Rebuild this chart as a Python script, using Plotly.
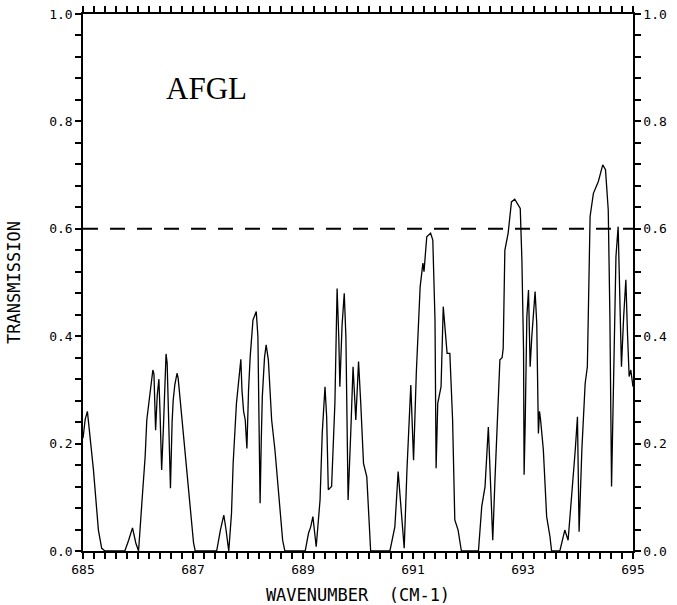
import plotly.graph_objects as go

# Spectral transmission samples (wavenumber in cm-1, transmission 0..1)
wavenumber = [
    685.00, 685.04, 685.08, 685.12, 685.19, 685.28, 685.34, 685.40,
    685.76, 685.83, 685.90, 685.96, 686.01,
    686.07, 686.13, 686.16, 686.22, 686.27, 686.29, 686.32, 686.35, 686.38, 686.40,
    686.43, 686.46, 686.51, 686.53, 686.56, 686.59, 686.62, 686.64, 686.67, 686.71,
    686.73, 686.79, 686.88, 686.97, 687.01, 687.04,
    687.43, 687.50, 687.56, 687.60, 687.65,
    687.70, 687.73, 687.79, 687.85, 687.87, 687.89, 687.92, 687.95, 687.98, 688.01,
    688.04, 688.09, 688.15, 688.18, 688.20, 688.22, 688.24, 688.26, 688.30, 688.33,
    688.37, 688.43, 688.49, 688.58, 688.63, 688.67,
    689.04, 689.10, 689.14, 689.18, 689.21, 689.24, 689.31, 689.35, 689.40, 689.43,
    689.46, 689.52, 689.58, 689.62, 689.65, 689.67, 689.71, 689.75, 689.78, 689.80,
    689.82, 689.87, 689.91, 689.96, 690.01, 690.05, 690.10, 690.16, 690.20, 690.23,
    690.58, 690.67, 690.73, 690.78, 690.84, 690.89, 690.96, 691.01, 691.06, 691.13,
    691.18, 691.20, 691.25, 691.32, 691.36, 691.40, 691.42, 691.45, 691.51, 691.55,
    691.58, 691.62, 691.67, 691.72, 691.76, 691.82, 691.88,
    692.19, 692.25, 692.31, 692.37, 692.40, 692.45, 692.49, 692.55, 692.58, 692.62,
    692.64, 692.67, 692.73, 692.79, 692.85, 692.95, 692.98, 693.01, 693.02, 693.04,
    693.07, 693.10, 693.13, 693.16, 693.22, 693.25, 693.28, 693.30, 693.32, 693.37,
    693.43, 693.49, 693.52,
    693.67, 693.76, 693.82, 693.88, 693.95, 693.99, 694.02, 694.07, 694.13, 694.17,
    694.22, 694.28, 694.37, 694.45, 694.50, 694.55, 694.58, 694.61, 694.64, 694.69,
    694.73, 694.76, 694.79, 694.83, 694.87, 694.90, 694.93, 694.96, 695.00,
]
transmission = [
    0.210, 0.245, 0.260, 0.220, 0.151, 0.039, 0.005, 0.000,
    0.000, 0.020, 0.043, 0.015, 0.000,
    0.089, 0.176, 0.244, 0.300, 0.337, 0.330, 0.225, 0.290, 0.320, 0.260,
    0.151, 0.225, 0.367, 0.350, 0.240, 0.117, 0.240, 0.281, 0.310, 0.331,
    0.322, 0.256, 0.163, 0.064, 0.015, 0.000,
    0.000, 0.040, 0.067, 0.040, 0.000,
    0.070, 0.163, 0.275, 0.345, 0.357, 0.300, 0.260, 0.244, 0.191, 0.300,
    0.362, 0.430, 0.446, 0.400, 0.250, 0.089, 0.200, 0.287, 0.360, 0.384,
    0.356, 0.244, 0.188, 0.076, 0.020, 0.000,
    0.000, 0.033, 0.045, 0.064, 0.030, 0.008, 0.095, 0.220, 0.306, 0.250,
    0.114, 0.120, 0.275, 0.489, 0.400, 0.306, 0.420, 0.480, 0.399, 0.250,
    0.095, 0.225, 0.343, 0.244, 0.353, 0.275, 0.163, 0.138, 0.050, 0.000,
    0.000, 0.045, 0.148, 0.089, 0.005, 0.151, 0.309, 0.169, 0.331, 0.492,
    0.536, 0.520, 0.585, 0.592, 0.579, 0.430, 0.154, 0.275, 0.306, 0.455,
    0.412, 0.368, 0.368, 0.244, 0.058, 0.039, 0.000,
    0.000, 0.083, 0.120, 0.231, 0.157, 0.020, 0.132, 0.269, 0.356, 0.360,
    0.377, 0.560, 0.592, 0.650, 0.655, 0.638, 0.542, 0.374, 0.142, 0.238,
    0.436, 0.486, 0.343, 0.399, 0.483, 0.424, 0.219, 0.260, 0.244, 0.188,
    0.064, 0.027, 0.000,
    0.000, 0.039, 0.020, 0.095, 0.188, 0.250, 0.036, 0.188, 0.312, 0.343,
    0.623, 0.666, 0.688, 0.719, 0.710, 0.635, 0.436, 0.120, 0.312, 0.548,
    0.604, 0.480, 0.343, 0.436, 0.505, 0.405, 0.325, 0.337, 0.306,
]

x_range = [685, 695]
y_range = [0.0, 1.0]
reference_level = 0.6

# Tick marks every 0.2 cm-1 (labelled every 2) and every 0.04 (labelled every 0.2)
x_tick_vals = [685 + i * 0.2 for i in range(51)]
x_tick_text = [str(685 + i // 5) if i % 10 == 0 else "" for i in range(51)]
y_tick_vals = [i * 0.04 for i in range(26)]
y_tick_text = [f"{i * 0.04:.1f}" if i % 5 == 0 else "" for i in range(26)]

mono = "DejaVu Sans Mono"

fig = go.Figure()
fig.add_trace(go.Scatter(
    x=wavenumber, y=transmission, mode="lines",
    line=dict(color="black", width=1.3), showlegend=False, hoverinfo="skip",
))
fig.add_trace(go.Scatter(
    x=x_range, y=[reference_level, reference_level], mode="lines", yaxis="y2",
    line=dict(color="black", width=2, dash="15px,12px"), showlegend=False,
    hoverinfo="skip",
))

axis_common = dict(
    showgrid=False, zeroline=False, showline=True, linecolor="#000000",
    linewidth=1.5, ticks="outside", ticklen=6, tickwidth=1.5,
    tickcolor="#000000", tickfont=dict(family=mono, size=13, color="black"),
    automargin=False,
)

fig.update_layout(
    width=677, height=605,
    margin=dict(l=83, r=44, t=14, b=54),
    paper_bgcolor="white", plot_bgcolor="white",
    xaxis=dict(
        **axis_common, range=x_range, tickmode="array", tickvals=x_tick_vals,
        ticktext=x_tick_text, mirror="ticks",
        title=dict(text="WAVENUMBER  (CM-1)",
                   font=dict(family=mono, size=17, color="black"), standoff=20),
    ),
    yaxis=dict(
        **axis_common, range=y_range, tickmode="array", tickvals=y_tick_vals,
        ticktext=y_tick_text,
        title=dict(text="TRANSMISSION",
                   font=dict(family=mono, size=17, color="black"), standoff=24),
    ),
    yaxis2=dict(
        **axis_common, range=y_range, tickmode="array", tickvals=y_tick_vals,
        ticktext=y_tick_text, overlaying="y", side="right",
    ),
    annotations=[dict(
        x=687.25, y=0.862, xref="x", yref="y", text="AFGL", showarrow=False,
        font=dict(family="Liberation Serif", size=31, color="black"),
    )],
)

fig.write_html("out.html")
